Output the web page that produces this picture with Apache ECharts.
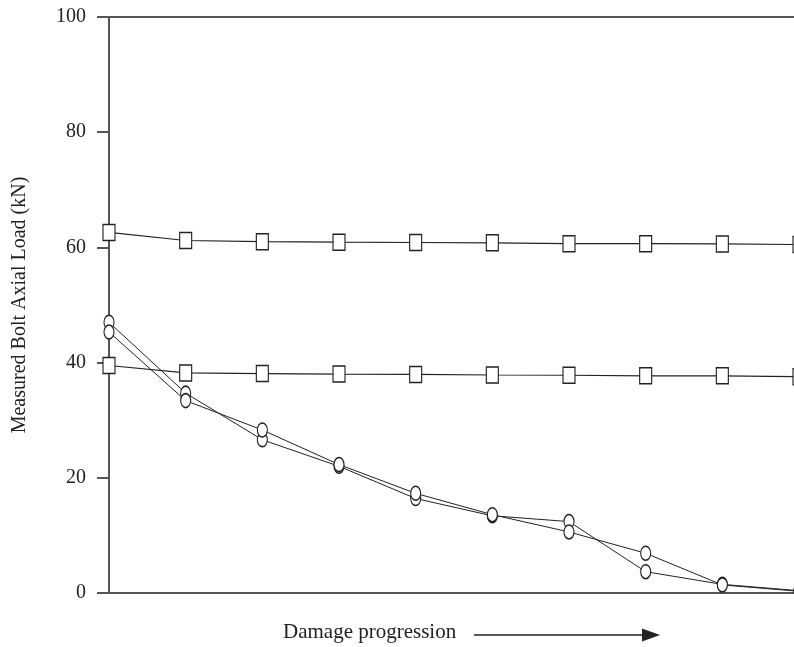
<!DOCTYPE html>
<html>
<head>
<meta charset="utf-8">
<script src="https://cdn.jsdelivr.net/npm/echarts@6/dist/echarts.min.js"></script>
<style>
  html, body { margin: 0; padding: 0; background: #fff; }
  #main { width: 794px; height: 647px; }
</style>
</head>
<body>
<div id="main"></div>
<script>
// damage steps (x positions, labels hidden in the figure)
var steps = ['1', '2', '3', '4', '5', '6', '7', '8', '9', '10'];
// bolt axial load, kN
var boltHigh = [62.6, 61.2, 61.0, 60.9, 60.85, 60.8, 60.65, 60.65, 60.6, 60.5];
var boltMid = [39.5, 38.2, 38.1, 38.0, 37.95, 37.85, 37.8, 37.7, 37.7, 37.55];
var boltLowA = [47.0, 34.7, 26.6, 22.0, 16.4, 13.4, 12.4, 3.7, 1.5, 0.4];
var boltLowB = [45.3, 33.4, 28.3, 22.3, 17.3, 13.6, 10.6, 6.9, 1.4, 0.3];

var serif = 'Liberation Serif';
var ink = '#222';
var axisGrey = '#555';
var ellipse = 'path://M0,7 A5,7 0 1,1 10,7 A5,7 0 1,1 0,7 Z';

function squareSeries(data) {
    return {
        type: 'line',
        data: data,
        symbol: 'rect',
        symbolSize: [12, 16],
        lineStyle: { color: ink, width: 1.2 },
        itemStyle: { color: '#fff', borderColor: ink, borderWidth: 1.3 },
        z: 3
    };
}
function circleSeries(data) {
    return {
        type: 'line',
        data: data,
        symbol: ellipse,
        symbolSize: [10, 14],
        lineStyle: { color: ink, width: 1 },
        itemStyle: { color: '#fff', borderColor: ink, borderWidth: 1.3 },
        z: 4
    };
}

var chart = echarts.init(document.getElementById('main'));
var option = {
    animation: false,
    backgroundColor: '#fff',
    grid: { left: 109, right: -5, top: 17, bottom: 54, containLabel: false, outerBoundsMode: 'none' },
    xAxis: [
        {
            type: 'category',
            data: steps,
            boundaryGap: false,
            axisLine: { show: true, lineStyle: { color: axisGrey, width: 2 } },
            axisTick: { show: false },
            axisLabel: { show: false },
            splitLine: { show: false }
        },
        {
            type: 'category',
            data: steps,
            position: 'top',
            boundaryGap: false,
            axisLine: { show: true, lineStyle: { color: axisGrey, width: 2 } },
            axisTick: { show: false },
            axisLabel: { show: false },
            splitLine: { show: false }
        }
    ],
    yAxis: {
        type: 'value',
        min: 0,
        max: 100,
        interval: 20,
        name: 'Measured Bolt Axial Load (kN)',
        nameLocation: 'middle',
        nameGap: 79,
        nameTextStyle: { fontFamily: serif, fontSize: 20, color: ink },
        axisLine: { show: true, lineStyle: { color: axisGrey, width: 2 } },
        axisTick: { show: true, length: 12, lineStyle: { color: axisGrey, width: 2 } },
        axisLabel: { fontFamily: serif, fontSize: 20, color: ink, margin: 23 },
        splitLine: { show: false }
    },
    series: [
        squareSeries(boltHigh),
        squareSeries(boltMid),
        circleSeries(boltLowA),
        circleSeries(boltLowB)
    ],
    graphic: [
        {
            type: 'text',
            left: 283,
            top: 622,
            style: { text: 'Damage progression', font: '21px "Liberation Serif"', fill: ink }
        },
        {
            type: 'line',
            shape: { x1: 474, y1: 635, x2: 645, y2: 635 },
            style: { stroke: ink, lineWidth: 1.3 }
        },
        {
            type: 'polygon',
            shape: { points: [[642, 628.5], [660, 635], [642, 641.5]] },
            style: { fill: ink }
        }
    ]
};
chart.setOption(option);
</script>
</body>
</html>
